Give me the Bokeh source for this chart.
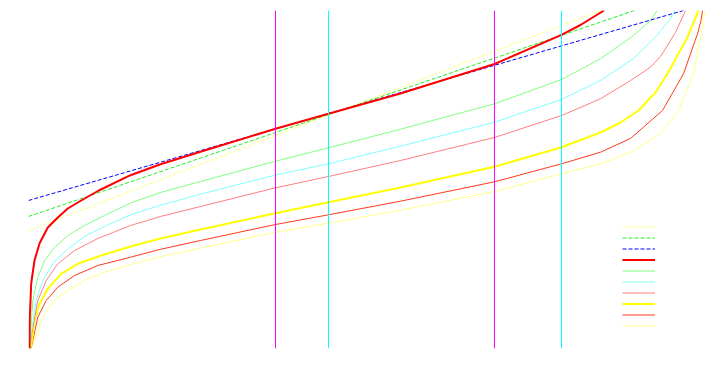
from bokeh.plotting import figure
from bokeh.models import Range1d, Span, Legend, LegendItem
from bokeh.core.properties import value
from bokeh.embed import file_html
from bokeh.resources import INLINE

# ---- data (chart units: x 0..677, y 0..338) ----
red_x = [1, 1.3, 2.7, 6, 11, 19.3, 29.3, 39.3, 52.7, 70.3, 102, 132, 172, 247, 300, 372, 466, 533, 552, 575.5]
red_y = [0, 31, 65, 88, 105, 121, 131, 140, 148, 158, 173.3, 184.3, 196.7, 219.7, 234.7, 255, 284.5, 313.7, 323.5, 338]

lgreen_x = [1.5, 2, 4.3, 9.3, 16, 26, 39.3, 56, 76, 102, 132, 172, 247, 300, 372, 466, 533, 572, 605, 622, 628.7]
lgreen_y = [0, 15, 48, 71, 88, 101, 113, 123, 133, 145.5, 156, 167, 187.3, 200.7, 219.3, 244.7, 269, 289.7, 313, 328, 338]

lcyan_x = [1.5, 2.7, 7.7, 14.3, 24.3, 39.3, 56, 76, 102, 132, 172, 247, 300, 372, 466, 533, 572, 605, 627, 642, 646.3]
lcyan_y = [0, 15, 48, 68, 84.7, 99.7, 112, 122, 133.7, 143.3, 154.3, 173.5, 184.7, 202.3, 226.3, 249, 268, 290, 311.3, 329.7, 338]

pink_x = [1.5, 3.3, 9.3, 17.7, 29.3, 46, 69.3, 102, 132, 172, 247, 300, 372, 466, 533, 572, 602, 622, 632, 647, 657]
pink_y = [0, 15, 48, 68, 84.7, 98, 110, 123, 132, 142, 160.7, 172, 188, 211, 233, 249.7, 268, 281.3, 292, 316, 338]

yellow_x = [2, 3.3, 6, 11, 19.3, 32.7, 49.3, 72.7, 102, 132, 172, 247, 300, 372, 466, 533, 572, 592, 610, 627, 639, 659, 670]
yellow_y = [0, 8, 28, 44.7, 59.7, 74.7, 84.7, 93, 102, 110, 119, 135.3, 146.3, 161, 181.7, 201.3, 216, 226, 238, 256, 274.7, 311.3, 338]

orange_x = [2.5, 4.3, 9.3, 17.7, 29.3, 46, 69.3, 102, 132, 172, 247, 300, 372, 466, 533, 572, 602, 634, 655, 669, 672.5, 674]
orange_y = [0, 8, 31.3, 48, 61.3, 73, 83, 91.3, 99.2, 108, 124, 133.7, 147.3, 166.7, 184.7, 196.3, 210, 238, 274.7, 314.7, 328, 338]

lyellow_x = [3, 6, 12.7, 22.7, 36, 56, 76, 102, 132, 172, 247, 300, 372, 466, 533, 572, 602, 632, 650, 665, 672, 675, 676.5]
lyellow_y = [0, 8, 28, 44.7, 56.3, 68, 76.3, 84, 91.7, 100.3, 116.3, 125.3, 138.3, 157, 174.7, 184.7, 196.3, 214.7, 238, 274.7, 311.3, 330, 338]

dash_blue_x = [0, 655]
dash_blue_y = [148, 338]
dash_green_x = [0, 606]
dash_green_y = [132, 338]
dash_yellow_x = [0, 572]
dash_yellow_y = [118, 338]

vline_x = [247, 300, 466, 533]
vline_colors = ["#ff00ff", "#00ffff", "#ff00ff", "#00ffff"]

# ---- figure ----
p = figure(width=718, height=362, output_backend="svg", toolbar_location=None,
           x_axis_type=None, y_axis_type=None,
           x_range=Range1d(0, 677), y_range=Range1d(0, 338),
           min_border_left=28, min_border_right=13, min_border_top=10, min_border_bottom=14)
p.outline_line_color = None
p.background_fill_color = "white"

for xv, c in zip(vline_x, vline_colors):
    p.add_layout(Span(location=xv, dimension="height", line_color=c, line_width=1))

r_ly = p.line(lyellow_x, lyellow_y, line_color="#ffff88", line_width=1)
r_or = p.line(orange_x, orange_y, line_color="#ff3a1a", line_width=1)
r_ye = p.line(yellow_x, yellow_y, line_color="#ffff00", line_width=2)
r_pk = p.line(pink_x, pink_y, line_color="#ff8080", line_width=1)
r_cy = p.line(lcyan_x, lcyan_y, line_color="#80ffff", line_width=1)
r_lg = p.line(lgreen_x, lgreen_y, line_color="#80ff80", line_width=1)
r_dy = p.line(dash_yellow_x, dash_yellow_y, line_color="#ffff66", line_width=1, line_dash="3 2")
r_dg = p.line(dash_green_x, dash_green_y, line_color="#22ee22", line_width=1, line_dash="4 2")
r_db = p.line(dash_blue_x, dash_blue_y, line_color="#0000ff", line_width=1, line_dash="4 2")
r_rd = p.line(red_x, red_y, line_color="#ff0000", line_width=2)

order = [r_dy, r_dg, r_db, r_rd, r_lg, r_cy, r_pk, r_ye, r_or, r_ly]
items = [LegendItem(label=value(" "), renderers=[r]) for r in order]
legend = Legend(items=items, location=(594, 17), glyph_width=33, glyph_height=11,
                label_height=11, label_text_font_size="8px", spacing=0, padding=0,
                margin=0, border_line_color=None, background_fill_alpha=0,
                label_standoff=2)
p.add_layout(legend)

open("out.html", "w").write(file_html(p, INLINE))
